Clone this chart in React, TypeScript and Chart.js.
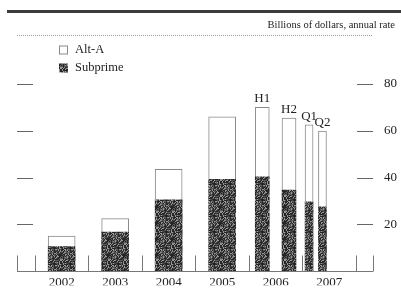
import React, { useEffect, useRef } from 'react';
import { Chart, registerables } from 'chart.js';

Chart.register(...registerables);

// ---- Data ----
const yearLabels = ['2002', '2003', '2004', '2005', '2006', '2007'];
const yearBoundaries = [2002, 2003, 2004, 2005, 2006, 2007, 2008];

const annualPeriods = [2002.5, 2003.5, 2004.5, 2005.5];
const annualSubprime = [10.5, 16.7, 30.5, 39.3];
const annualAltA = [4.5, 5.8, 13.0, 26.7];

const halfLabels = ['H1', 'H2'];
const halfPeriods = [2006.25, 2006.75];
const halfSubprime = [40.3, 34.7];
const halfAltA = [29.7, 30.7];

const quarterLabels = ['Q1', 'Q2'];
const quarterPeriods = [2007.125, 2007.375];
const quarterSubprime = [29.6, 27.5];
const quarterAltA = [33.0, 32.4];

const yTickValues = [20, 40, 60, 80];

const titleText = 'Billions of dollars, annual rate';
const legendLabels = ['Alt-A', 'Subprime'];

const FONT = '"Liberation Serif", "Times New Roman", serif';
const TEXT = '#222';

function makeTexture(): CanvasPattern | string {
  const c = document.createElement('canvas');
  c.width = 16;
  c.height = 16;
  const g = c.getContext('2d');
  if (!g) return '#444';
  const img = g.createImageData(16, 16);
  for (let y = 0; y < 16; y++) {
    for (let x = 0; x < 16; x++) {
      let h = Math.imul(x + 1, 374761393) ^ Math.imul(y + 7, 668265263);
      h = Math.imul(h ^ (h >>> 13), 1274126177);
      h = (h ^ (h >>> 16)) >>> 0;
      const r = h % 100;
      const v = r < 22 ? 150 : r < 50 ? 85 : 38;
      const i = (y * 16 + x) * 4;
      img.data[i] = v;
      img.data[i + 1] = v;
      img.data[i + 2] = v;
      img.data[i + 3] = 255;
    }
  }
  g.putImageData(img, 0, 0);
  const p = g.createPattern(c, 'repeat');
  return p || '#444';
}

const pts = (xs: number[], ys: number[]) => xs.map((x, i) => ({ x, y: ys[i] }));

export default function App() {
  const ref = useRef<HTMLCanvasElement | null>(null);

  useEffect(() => {
    const canvas = ref.current;
    if (!canvas) return;
    const texture = makeTexture();

    const altStyle = {
      backgroundColor: '#ffffff',
      borderColor: '#8a8a8a',
      borderWidth: 1,
      grouped: false,
    };
    const subStyle = {
      backgroundColor: texture as any,
      borderColor: '#555',
      borderWidth: 0,
      grouped: false,
    };

    const decor = {
      id: 'decor',
      afterDraw(chart: any) {
        const ctx = chart.ctx as CanvasRenderingContext2D;
        const area = chart.chartArea;
        const xs = chart.scales.x;
        const ys = chart.scales.y;
        ctx.save();

        // top thick rule
        ctx.fillStyle = '#3c3c3c';
        ctx.fillRect(7, 10, 394, 3);

        // unit title
        ctx.fillStyle = TEXT;
        ctx.font = `10.5px ${FONT}`;
        ctx.textAlign = 'right';
        ctx.textBaseline = 'middle';
        ctx.fillText(titleText, 395, 25);

        // dotted rule
        ctx.strokeStyle = '#999';
        ctx.lineWidth = 1;
        ctx.setLineDash([1, 1]);
        ctx.beginPath();
        ctx.moveTo(area.left, 35.5);
        ctx.lineTo(area.right, 35.5);
        ctx.stroke();
        ctx.setLineDash([]);

        // legend
        const lx = 59;
        const rows = [50, 68];
        ctx.font = `12.5px ${FONT}`;
        ctx.textAlign = 'left';
        ctx.textBaseline = 'middle';
        ctx.fillStyle = '#fff';
        ctx.fillRect(lx, rows[0] - 4.5, 9, 9);
        ctx.strokeStyle = '#8a8a8a';
        ctx.strokeRect(lx + 0.5, rows[0] - 4, 8, 8);
        ctx.fillStyle = TEXT;
        ctx.fillText(legendLabels[0], lx + 16, rows[0]);
        ctx.fillStyle = texture as any;
        ctx.fillRect(lx, rows[1] - 4.5, 9, 9);
        ctx.fillStyle = TEXT;
        ctx.fillText(legendLabels[1], lx + 16, rows[1]);

        // y tick marks on both inner edges
        ctx.strokeStyle = '#666';
        ctx.lineWidth = 1;
        yTickValues.forEach((v) => {
          const py = Math.round(ys.getPixelForValue(v)) + 0.5;
          ctx.beginPath();
          ctx.moveTo(area.left, py);
          ctx.lineTo(area.left + 16, py);
          ctx.moveTo(area.right - 16, py);
          ctx.lineTo(area.right, py);
          ctx.stroke();
        });

        // baseline and period separators
        const by = Math.round(ys.getPixelForValue(0)) + 0.5;
        ctx.strokeStyle = '#777';
        ctx.beginPath();
        ctx.moveTo(area.left, by);
        ctx.lineTo(area.right, by);
        const seps = [area.left, ...yearBoundaries.map((b) => xs.getPixelForValue(b)), area.right];
        seps.forEach((sx) => {
          const px = Math.round(sx) + 0.5;
          ctx.moveTo(px, by);
          ctx.lineTo(px, by - 16);
        });
        ctx.stroke();

        // sub-period labels
        ctx.fillStyle = TEXT;
        ctx.font = `13px ${FONT}`;
        ctx.textAlign = 'center';
        ctx.textBaseline = 'bottom';
        halfLabels.forEach((l, i) => {
          const px = xs.getPixelForValue(halfPeriods[i]);
          const py = ys.getPixelForValue(halfSubprime[i] + halfAltA[i]);
          ctx.fillText(l, px, py - 2);
        });
        quarterLabels.forEach((l, i) => {
          const px = xs.getPixelForValue(quarterPeriods[i]);
          const py = ys.getPixelForValue(quarterSubprime[i] + quarterAltA[i]);
          ctx.fillText(l, px, py - 2);
        });

        ctx.restore();
      },
    };

    const chart = new Chart(canvas, {
      type: 'bar',
      data: {
        datasets: [
          { label: 'Subprime', data: pts(annualPeriods, annualSubprime), barThickness: 27, ...subStyle },
          { label: 'Alt-A', data: pts(annualPeriods, annualAltA), barThickness: 27, ...altStyle },
          { label: 'Subprime H', data: pts(halfPeriods, halfSubprime), barThickness: 14, ...subStyle },
          { label: 'Alt-A H', data: pts(halfPeriods, halfAltA), barThickness: 14, ...altStyle },
          { label: 'Subprime Q', data: pts(quarterPeriods, quarterSubprime), barThickness: 8, ...subStyle },
          { label: 'Alt-A Q', data: pts(quarterPeriods, quarterAltA), barThickness: 8, ...altStyle },
        ] as any,
      },
      options: {
        responsive: false,
        animation: false,
        events: [],
        layout: { padding: { left: 17, top: 84, right: 0, bottom: 0 } },
        plugins: {
          legend: { display: false },
          tooltip: { enabled: false },
          title: { display: false },
        },
        scales: {
          x: {
            type: 'linear',
            stacked: true,
            offset: false,
            min: 2001.665,
            max: 2008.32,
            grid: { display: false, drawTicks: false, offset: false },
            border: { display: false },
            afterBuildTicks: (s: any) => {
              s.ticks = yearLabels.map((_, i) => ({ value: yearBoundaries[i] + 0.5 }));
            },
            afterFit: (s: any) => {
              s.height = 14;
            },
            ticks: {
              autoSkip: false,
              maxRotation: 0,
              padding: 5,
              color: TEXT,
              font: { family: FONT, size: 13, lineHeight: 1 },
              callback: (_v: any, i: number) => yearLabels[i],
            },
          },
          y: {
            position: 'right',
            stacked: true,
            min: 0,
            max: 80,
            grid: { display: false, drawTicks: false },
            border: { display: false },
            afterFit: (s: any) => {
              s.width = 28;
            },
            ticks: {
              stepSize: 20,
              padding: 11,
              color: TEXT,
              font: { family: FONT, size: 13 },
              callback: (v: any) => (v === 0 ? '' : String(v)),
            },
          },
        },
      } as any,
      plugins: [decor],
    });

    return () => chart.destroy();
  }, []);

  return (
    <div style={{ position: 'absolute', left: 0, top: 0, width: 401, height: 290, background: '#fff' }}>
      <canvas ref={ref} width={401} height={290} style={{ display: 'block' }} />
    </div>
  );
}
